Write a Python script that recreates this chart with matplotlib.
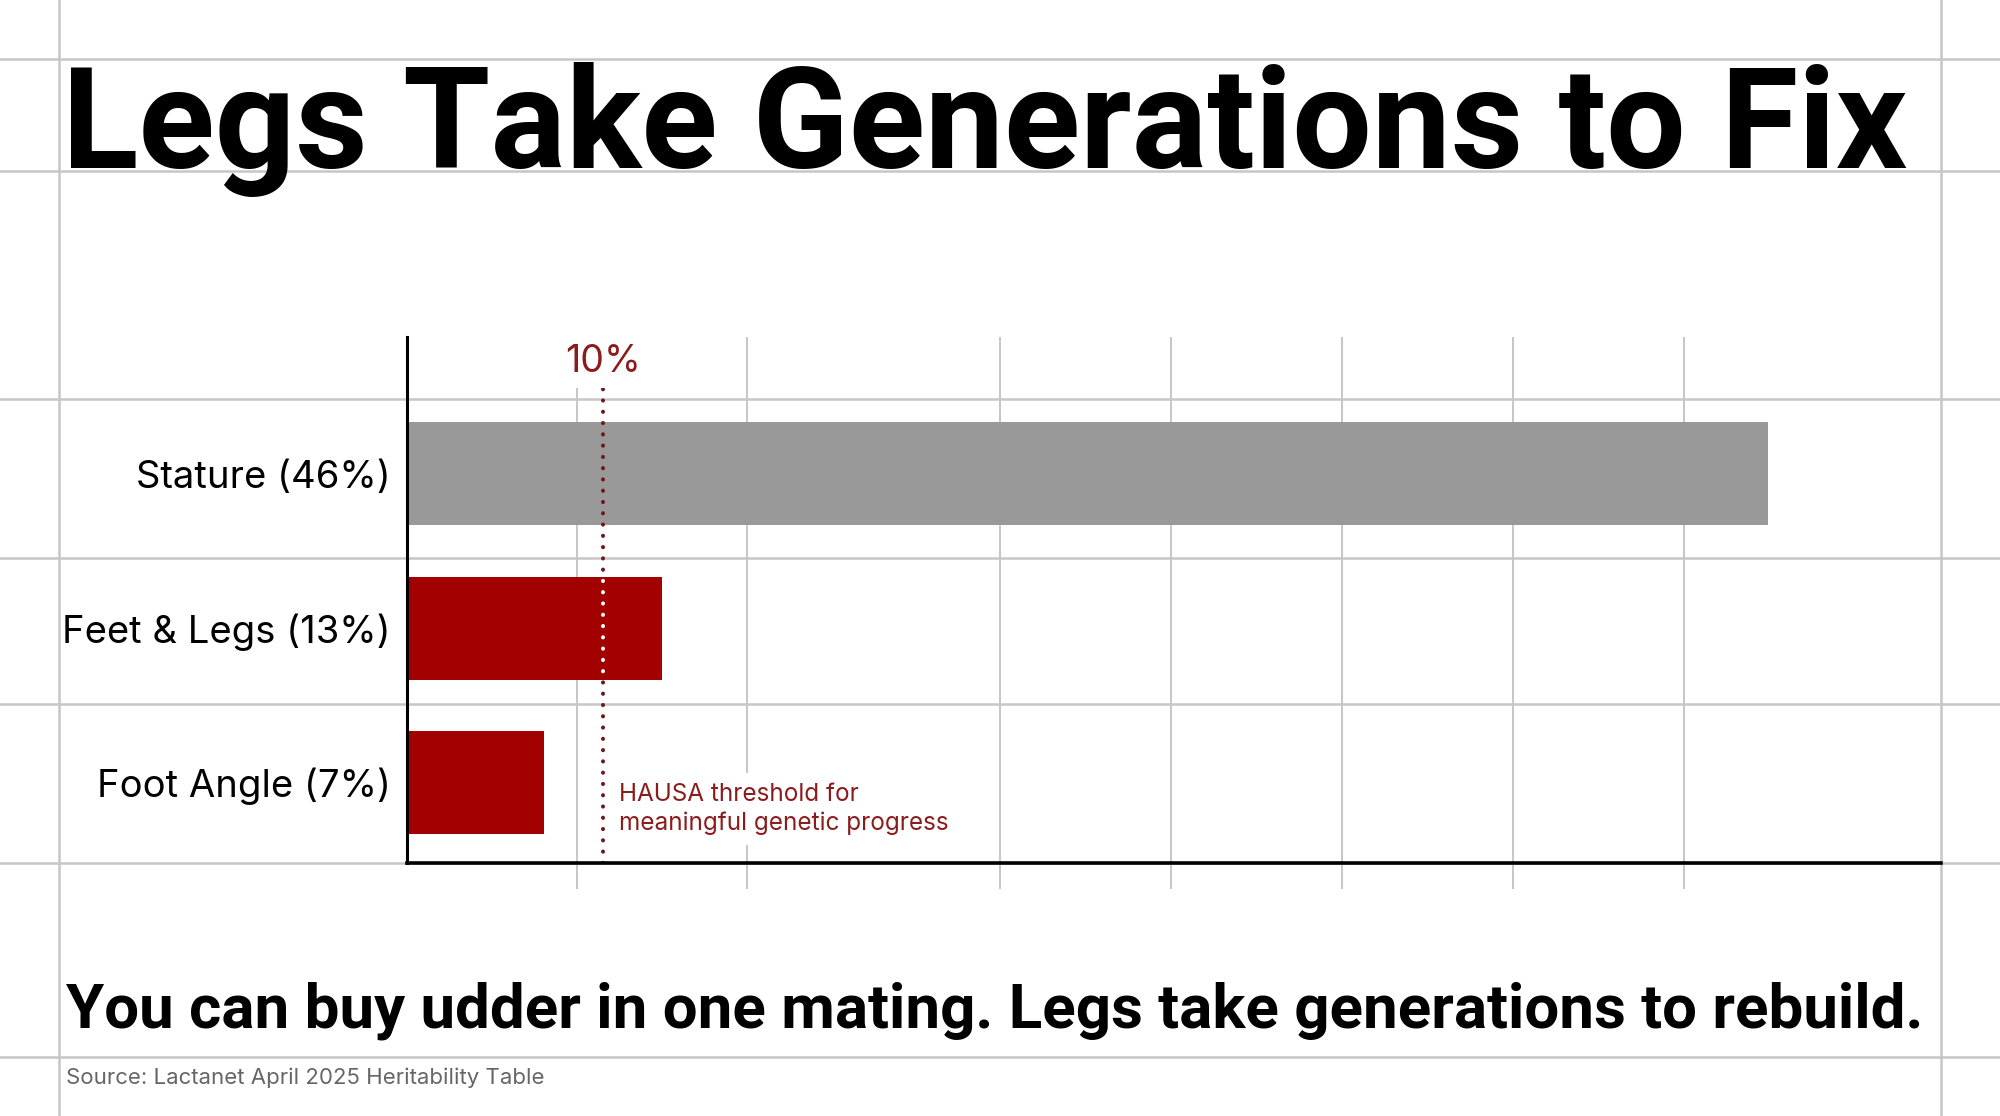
import matplotlib
matplotlib.use("Agg")
import matplotlib.pyplot as plt
import numpy as np
from matplotlib.lines import Line2D
from matplotlib.transforms import blended_transform_factory

plt.rcParams['font.family'] = ['Inter', 'DejaVu Sans']

# data
traits = ["Stature (46%)", "Feet & Legs (13%)", "Foot Angle (7%)"]
heritability = [46, 13, 7]
bar_colors = ["#999999", "#a30000", "#a30000"]
threshold = 10
threshold_label = "10%"
threshold_note = "HAUSA threshold for\nmeaningful genetic progress"
title = "Legs Take Generations to Fix"
subtitle = "You can buy udder in one mating. Legs take generations to rebuild."
source = "Source: Lactanet April 2025 Heritability Table"

DARK_RED = "#8c1c1c"
GRID = "#c6c6c6"

# the drawing stretches the stature bar, so the axis is piecewise linear
knots_data = [-100, 0, 13, 46, 200]
knots_vis = [-100, 0, 13, 69.44, 333.0]


def fwd(x):
    return np.interp(x, knots_data, knots_vis)


def inv(v):
    return np.interp(v, knots_vis, knots_data)


W, H = 2000, 1116
fig = plt.figure(figsize=(W / 100, H / 100), dpi=100)
fig.patch.set_facecolor("white")

# background layout grid
for yy in [59, 171, 399, 558, 704, 863, 1057]:
    fig.add_artist(Line2D([0, 1], [1 - yy / H] * 2, color=GRID, lw=1.8, zorder=-2))
for xx in [59, 1941]:
    fig.add_artist(Line2D([xx / W] * 2, [0, 1], color=GRID, lw=1.8, zorder=-2))

ax_left, ax_right, ax_top, ax_bot = 407, 1941, 337, 863
rect = [ax_left / W, 1 - ax_bot / H, (ax_right - ax_left) / W, (ax_bot - ax_top) / H]

# vertical grid lines on their own axes underneath
gax = fig.add_axes(rect, zorder=0)
gax.set_facecolor("none")
gax.set_xlim(0, 1)
gax.set_ylim(0, 1)
gax.set_xticks([0.1108, 0.2216, 0.3866, 0.4980, 0.6095, 0.7210, 0.8325])
gax.set_yticks([])
gax.tick_params(axis="x", direction="out", length=18.5, width=1.4, color=GRID, labelbottom=False)
gax.grid(axis="x", color=GRID, lw=1.4)
for s in gax.spines.values():
    s.set_visible(False)

ax = fig.add_axes(rect, zorder=1)
ax.set_facecolor("none")
ax.set_xscale("function", functions=(fwd, inv))
ax.set_xlim(0, 51.16)
ypos = np.arange(len(traits))
bars = ax.barh(ypos, heritability, height=0.668, color=bar_colors, zorder=3)
ax.set_ylim(2.522, -0.888)
ax.set_yticks(ypos)
ax.set_yticklabels(traits, fontsize=27.5)
ax.tick_params(axis="y", length=0, pad=11.5)
ax.set_xticks([])
ax.minorticks_off()
for s in ["top", "right"]:
    ax.spines[s].set_visible(False)
ax.spines["left"].set_linewidth(2.2)
ax.spines["bottom"].set_linewidth(2.6)
ax.spines["left"].set_zorder(6)
ax.spines["bottom"].set_zorder(6)

# threshold line: dark dots, white where it crosses the red bars
trans = blended_transform_factory(ax.transData, ax.transAxes)
top_frac = (ax_bot - 385) / (ax_bot - ax_top)
dots = (0, (0.05, 2.75))
ax.plot([threshold, threshold], [0, top_frac], transform=trans, color="#6e1818",
        lw=2.9, linestyle=dots, dash_capstyle="round", zorder=4)
for b in bars[1:]:
    b.set_zorder(4.5)
    ln, = ax.plot([threshold, threshold], [0, top_frac], transform=trans, color="white",
                  lw=2.9, linestyle=dots, dash_capstyle="round", zorder=5)
    ln.set_clip_path(b)

ax.text(threshold, (ax_bot - 372) / (ax_bot - ax_top), threshold_label, transform=trans,
        ha="center", va="baseline", fontsize=27, color=DARK_RED, zorder=7,
        bbox=dict(facecolor="white", edgecolor="none", pad=6))
ax.text(10.8, (ax_bot - 830) / (ax_bot - ax_top), threshold_note, transform=trans,
        ha="left", va="baseline", fontsize=17.5, color=DARK_RED, linespacing=1.3, zorder=7,
        bbox=dict(facecolor="white", edgecolor="none", pad=7))

fig.text(62 / W, 1 - 168 / H, title, fontsize=101.5, fontweight="bold", color="black",
         ha="left", va="baseline", family="Roboto")
fig.text(66 / W, 1 - 1027 / H, subtitle, fontsize=44.6, fontweight="bold", color="black",
         ha="left", va="baseline", family="Roboto")
fig.text(66 / W, 1 - 1084 / H, source, fontsize=16, color="#666666",
         ha="left", va="baseline")

fig.savefig("out.png", dpi=100, facecolor="white")
